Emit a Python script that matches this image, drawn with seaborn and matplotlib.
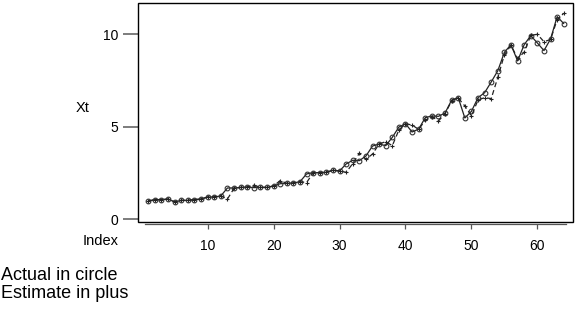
import matplotlib
matplotlib.use("Agg")
import matplotlib.pyplot as plt
from matplotlib.patches import Rectangle
import seaborn as sns
import numpy as np
import pandas as pd

# values
index = list(range(1, 65))
actual = [0.97, 1.05, 1.05, 1.08, 0.92, 1.01, 1.01, 1.05, 1.08, 1.19,
          1.19, 1.25, 1.68, 1.68, 1.71, 1.73, 1.70, 1.71, 1.71, 1.79,
          1.91, 1.93, 1.95, 2.02, 2.44, 2.51, 2.51, 2.53, 2.64, 2.60,
          2.98, 3.18, 3.16, 3.41, 3.95, 4.06, 3.97, 4.42, 4.98, 5.16,
          4.71, 4.87, 5.49, 5.58, 5.56, 5.74, 6.44, 6.57, 5.47, 5.83,
          6.57, 6.84, 7.42, 8.03, 9.03, 9.44, 8.56, 9.44, 9.93, 9.53,
          9.12, 9.75, 10.96, 10.58]
estimate = [0.97, 1.05, 1.05, 1.08, 0.93, 1.01, 1.01, 1.05, 1.08, 1.19,
            1.20, 1.25, 1.08, 1.66, 1.71, 1.73, 1.84, 1.71, 1.72, 1.79,
            2.08, 1.93, 1.95, 2.02, 1.97, 2.50, 2.51, 2.53, 2.64, 2.60,
            2.53, 3.00, 3.56, 3.23, 3.52, 4.06, 4.19, 3.97, 4.82, 5.16,
            5.09, 4.85, 5.35, 5.55, 5.31, 5.70, 6.40, 6.55, 6.12, 5.58,
            6.45, 6.57, 6.52, 7.67, 8.90, 9.40, 8.70, 9.03, 9.95, 10.00,
            9.60, 9.72, 10.80, 11.14]
yticks = [0, 5, 10]
xticks = [10, 20, 30, 40, 50, 60]

df = pd.DataFrame({"Index": index, "Actual": actual, "Estimate": estimate})

sns.set_style("white")
plt.rcParams["font.family"] = ["Liberation Sans", "DejaVu Sans"]
plt.rcParams["text.color"] = "black"
plt.rcParams["xtick.labelcolor"] = "black"
plt.rcParams["ytick.labelcolor"] = "black"

fig = plt.figure(figsize=(5.77, 3.09), dpi=100)
ax = fig.add_axes([138/577, 1 - 221.7/309, 435/577, 218.4/309])

sns.lineplot(x="Index", y="Actual", data=df, ax=ax, color="#222222", lw=0.9,
             marker="o", markersize=3.4, markerfacecolor="none",
             markeredgecolor="#333333", markeredgewidth=0.8)
sns.lineplot(x="Index", y="Estimate", data=df, ax=ax, color="#222222", lw=0.9,
             linestyle=(0, (4, 2.5)), marker="+", markersize=3.4,
             markeredgecolor="#222222", markeredgewidth=0.8)

ax.set_xlim(-0.56, 65.4)
ax.set_ylim(-0.146, 11.68)
ax.set_xticks(xticks)
ax.set_yticks(yticks)
ax.set_xlabel("")
ax.set_ylabel("")

for s in ["top", "right", "left"]:
    ax.spines[s].set_visible(False)
ax.spines["bottom"].set_position(("outward", 1.3))
ax.spines["bottom"].set_bounds(0.5, 64.3)
ax.spines["bottom"].set_color("#555555")
ax.spines["bottom"].set_linewidth(0.9)
ax.add_patch(Rectangle((0, 0), 1, 1, transform=ax.transAxes, fill=False,
                       lw=1.0, ec="black", clip_on=False, zorder=5))

ax.tick_params(axis="y", direction="out", length=10.8, width=1.2, color="#666666",
               pad=3.5, labelsize=10, left=True, labelcolor="black")
ax.tick_params(axis="x", direction="out", length=3.6, width=0.9, color="#555555",
               pad=7.5, labelsize=10, bottom=True, labelcolor="black")

fig.text(83/577, 1 - 108/309, "Xt", ha="center", va="center", fontsize=10.5, color="black")
fig.text(119/577, 1 - 241/309, "Index", ha="right", va="center", fontsize=10.5, color="black")
fig.text(1/577, 1 - 275/309, "Actual in circle", ha="left", va="center", fontsize=13, color="black")
fig.text(1/577, 1 - 293/309, "Estimate in plus", ha="left", va="center", fontsize=13, color="black")

fig.savefig("out.png", dpi=100)
